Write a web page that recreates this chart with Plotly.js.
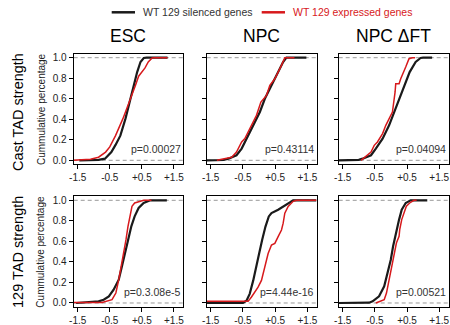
<!DOCTYPE html>
<html><head><meta charset="utf-8">
<script src="https://cdn.plot.ly/plotly-3.0.1.min.js"></script>
<style>html,body{margin:0;padding:0;background:#fff}#chart{width:450px;height:325px}</style>
</head><body><div id="chart"></div><script>
const panelTitles = ['ESC', 'NPC', 'NPC ΔFT'];
const rowLabels = ['Cast TAD strength', '129 TAD strength'];
const yAxisTitle = 'Cummulative percentage';
const seriesNames = ['WT 129 silenced genes', 'WT 129 expressed genes'];
const pValues = ['p=0.00027', 'p=0.43114', 'p=0.04094', 'p=0.3.08e-5', 'p=4.44e-16', 'p=0.00521'];
const xTickVals = [-1.5, -0.5, 0.5, 1.5];
const xTickText = ['-1.5', '-0.5', '+0.5', '+1.5'];
const yTickVals = [0, 0.2, 0.4, 0.6, 0.8, 1.0];
const yTickText = ['0.0', '0.2', '0.4', '0.6', '0.8', '1.0'];

// Cast TAD strength, ESC
const castEscSilX = [-1.45, -0.85, -0.65, -0.45, -0.32, -0.17, -0.01, 0.115, 0.25, 0.354, 0.458, 0.56, 0.65, 1.3];
const castEscSilY = [0, 0.005, 0.016, 0.081, 0.15, 0.24, 0.406, 0.568, 0.73, 0.86, 0.958, 0.997, 1, 1];
const castEscExpX = [-1.65, -1.1, -0.85, -0.63, -0.5, -0.32, -0.09, 0.115, 0.30, 0.40, 0.51, 0.60, 0.70, 0.82, 0.9, 1.3];
const castEscExpY = [0, 0.01, 0.03, 0.08, 0.13, 0.24, 0.406, 0.568, 0.73, 0.82, 0.86, 0.90, 0.958, 0.997, 1, 1];
// Cast TAD strength, NPC
const castNpcSilX = [-1.62, -1.1, -0.95, -0.70, -0.54, -0.39, -0.18, 0.026, 0.18, 0.387, 0.593, 0.747, 0.85, 1.47];
const castNpcSilY = [0, 0.003, 0.016, 0.049, 0.114, 0.211, 0.341, 0.471, 0.6, 0.73, 0.86, 0.958, 1, 1];
const castNpcExpX = [-1.31, -1.06, -0.85, -0.70, -0.54, -0.44, -0.23, -0.08, 0.057, 0.232, 0.335, 0.49, 0.696, 0.80, 1.1];
const castNpcExpY = [0, 0.016, 0.03, 0.081, 0.179, 0.211, 0.341, 0.438, 0.568, 0.633, 0.73, 0.795, 0.925, 1, 1];
// Cast TAD strength, NPC ΔFT
const castFtSilX = [-1.62, -1.0, -0.88, -0.62, -0.47, -0.26, -0.057, 0.098, 0.253, 0.407, 0.582, 0.768, 0.923, 1.0, 1.28];
const castFtSilY = [0, 0.004, 0.016, 0.049, 0.114, 0.211, 0.341, 0.471, 0.6, 0.73, 0.86, 0.958, 0.997, 1, 1];
const castFtExpX = [-0.93, -0.73, -0.62, -0.52, -0.42, -0.26, -0.16, 0.046, 0.098, 0.129, 0.149, 0.253, 0.304, 0.407, 0.459, 0.562, 0.665, 0.75];
const castFtExpY = [0, 0.049, 0.081, 0.146, 0.179, 0.26, 0.341, 0.471, 0.568, 0.666, 0.747, 0.747, 0.795, 0.86, 0.909, 0.99, 1, 1];
// 129 TAD strength, ESC
const s129EscSilX = [-1.55, -0.85, -0.69, -0.53, -0.38, -0.22, -0.12, -0.015, 0.068, 0.172, 0.276, 0.40, 0.556, 0.764, 1.28];
const s129EscSilY = [0, 0.016, 0.032, 0.065, 0.13, 0.227, 0.357, 0.487, 0.617, 0.747, 0.844, 0.925, 0.974, 1, 1];
const s129EscExpX = [-1.65, -0.74, -0.43, -0.31, -0.22, -0.14, -0.067, 0.006, 0.068, 0.141, 0.193, 0.276, 0.452, 0.556, 0.8];
const s129EscExpY = [0.006, 0.006, 0.032, 0.097, 0.227, 0.357, 0.487, 0.617, 0.747, 0.877, 0.942, 0.974, 0.99, 1, 1];
// 129 TAD strength, NPC
const s129NpcSilX = [-1.62, -0.5, -0.39, -0.29, -0.18, -0.08, 0.003, 0.096, 0.2, 0.303, 0.386, 0.593, 0.749, 0.904, 1.06, 1.78];
const s129NpcSilY = [0, 0.002, 0.023, 0.089, 0.22, 0.351, 0.482, 0.613, 0.744, 0.843, 0.875, 0.908, 0.941, 0.974, 1, 1];
const s129NpcExpX = [-1.62, -0.34, -0.24, -0.03, 0.075, 0.179, 0.282, 0.386, 0.49, 0.593, 0.697, 0.749, 0.80, 0.904, 1.06, 1.163, 1.78];
const s129NpcExpY = [0.016, 0.016, 0.056, 0.154, 0.22, 0.351, 0.482, 0.564, 0.58, 0.646, 0.711, 0.777, 0.875, 0.941, 0.99, 1, 1];
// 129 TAD strength, NPC ΔFT
const s129FtSilX = [-1.62, -0.68, -0.57, -0.37, -0.21, -0.11, -0.005, 0.067, 0.149, 0.253, 0.335, 0.459, 0.613, 1.13];
const s129FtSilY = [0, 0.003, 0.016, 0.065, 0.162, 0.292, 0.422, 0.552, 0.682, 0.812, 0.909, 0.974, 1, 1];
const s129FtExpX = [-0.47, -0.21, -0.139, -0.057, 0.046, 0.129, 0.17, 0.253, 0.273, 0.335, 0.407, 0.479, 0.582, 0.716, 0.8];
const s129FtExpY = [0, 0.032, 0.097, 0.227, 0.357, 0.487, 0.584, 0.649, 0.714, 0.812, 0.877, 0.942, 0.974, 1, 1];

const panels = [
  [castEscSilX, castEscSilY, castEscExpX, castEscExpY],
  [castNpcSilX, castNpcSilY, castNpcExpX, castNpcExpY],
  [castFtSilX, castFtSilY, castFtExpX, castFtExpY],
  [s129EscSilX, s129EscSilY, s129EscExpX, s129EscExpY],
  [s129NpcSilX, s129NpcSilY, s129NpcExpX, s129NpcExpY],
  [s129FtSilX, s129FtSilY, s129FtExpX, s129FtExpY]
];

const W = 450, H = 325;
const BLACK = '#1a1a1a', RED = '#d7191c';
const FONT = 'Liberation Sans, Arial, sans-serif';
const colPx = [[73.7, 183.2], [206.7, 316.7], [338.7, 448.5]];
const rowPx = [[53.6, 164.4], [196.2, 307.1]];
const fx = p => p / W, fy = p => 1 - p / H;

const traces = [];
const layout = {
  width: W, height: H, margin: {l: 0, r: 0, t: 0, b: 0},
  paper_bgcolor: '#fff', plot_bgcolor: '#fff', showlegend: false,
  font: {family: FONT, color: '#222'},
  annotations: [], shapes: []
};

panels.forEach((p, i) => {
  const r = Math.floor(i / 3), c = i % 3;
  const n = i + 1, xs = n === 1 ? '' : n, ys = n === 1 ? '' : n;
  const xa = 'x' + xs, ya = 'y' + ys;
  traces.push({x: p[0], y: p[1], xaxis: xa, yaxis: ya, mode: 'lines', name: seriesNames[0],
    line: {color: BLACK, width: 2.2}, hoverinfo: 'skip'});
  traces.push({x: p[2], y: p[3], xaxis: xa, yaxis: ya, mode: 'lines', name: seriesNames[1],
    line: {color: RED, width: 1.5}, hoverinfo: 'skip'});
  layout['xaxis' + xs] = {
    domain: [fx(colPx[c][0]), fx(colPx[c][1])], anchor: ya, range: [-1.625, 1.79],
    tickvals: xTickVals, ticktext: xTickText, ticks: 'outside', ticklen: 4, tickwidth: 1, tickcolor: '#000',
    showline: true, mirror: true, linecolor: '#000', linewidth: 1, showgrid: false, zeroline: false,
    tickfont: {size: 10, color: '#222', family: FONT}, fixedrange: true
  };
  layout['yaxis' + ys] = {
    domain: [fy(rowPx[r][1]), fy(rowPx[r][0])], anchor: xa, range: [-0.04, 1.04],
    tickvals: yTickVals, ticktext: yTickText, ticks: 'outside', ticklen: 4, tickwidth: 1, tickcolor: '#000',
    showticklabels: c === 0,
    showline: true, mirror: true, linecolor: '#000', linewidth: 1, showgrid: false, zeroline: false,
    tickfont: {size: 10, color: '#222', family: FONT}, fixedrange: true
  };
  [0, 1].forEach(v => layout.shapes.push({type: 'line', xref: xa + ' domain', yref: ya, x0: 0, x1: 1, y0: v, y1: v,
    line: {color: '#999', width: 1, dash: '4px,3px'}, layer: 'below'}));
  layout.annotations.push({xref: xa + ' domain', yref: ya + ' domain', x: 0.995, y: 0.135, xanchor: 'right', yanchor: 'middle',
    text: pValues[i], showarrow: false, font: {size: 10.5, color: '#333', family: FONT}});
});

panelTitles.forEach((t, c) => layout.annotations.push({xref: 'paper', yref: 'paper',
  x: fx((colPx[c][0] + colPx[c][1]) / 2), y: fy(35.5), xanchor: 'center', yanchor: 'middle',
  text: t, showarrow: false, font: {size: 17.5, color: '#000', family: FONT}}));

const rowCenters = [112, 252];
rowLabels.forEach((t, r) => {
  layout.annotations.push({xref: 'paper', yref: 'paper', x: fx(18), y: fy(rowCenters[r]), xanchor: 'center', yanchor: 'middle',
    text: t, textangle: -90, showarrow: false, font: {size: 14.5, color: '#000', family: FONT}});
  layout.annotations.push({xref: 'paper', yref: 'paper', x: fx(41), y: fy((rowPx[r][0] + rowPx[r][1]) / 2), xanchor: 'center', yanchor: 'middle',
    text: yAxisTitle, textangle: -90, showarrow: false, font: {size: 10, color: '#222', family: FONT}});
});

// legend
const legItems = [[111.7, 135, 141.7, BLACK, '#333'], [261.7, 285, 291.7, RED, RED]];
legItems.forEach((it, k) => {
  layout.shapes.push({type: 'line', xref: 'paper', yref: 'paper', x0: fx(it[0]), x1: fx(it[1]), y0: fy(12.3), y1: fy(12.3),
    line: {color: it[3], width: 2.5}});
  layout.annotations.push({xref: 'paper', yref: 'paper', x: fx(it[2]), y: fy(12.5), xanchor: 'left', yanchor: 'middle',
    text: seriesNames[k], showarrow: false, borderpad: 0, font: {size: 10.5, color: it[4], family: FONT}});
});

Plotly.newPlot('chart', traces, layout, {displayModeBar: false, staticPlot: true});
</script></body></html>
